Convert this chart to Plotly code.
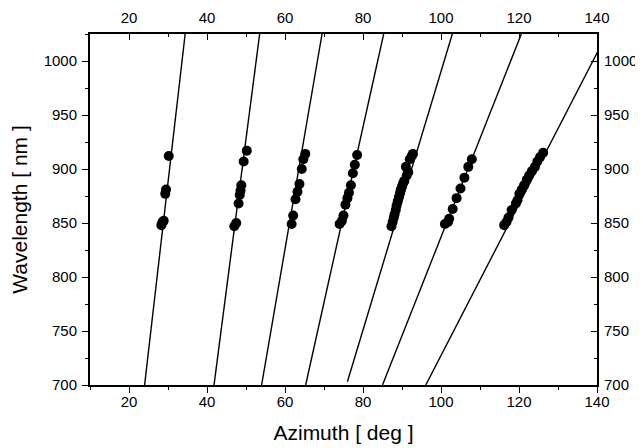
import plotly.graph_objects as go

# ---- data ----
line_wl_start = [700, 700, 700, 700, 703, 700, 700]
line_wl_end = [1025, 1025, 1025, 1025, 1025, 1025, 1025]
line_az_start = [24.0, 41.8, 54.0, 65.3, 76.0, 85.0, 96.1]
line_az_end = [34.4, 53.5, 69.5, 85.3, 102.9, 120.6, 142.5]

g1_az = [28.3, 28.6, 28.9, 29.3, 29.5, 30.2]
g1_wl = [848, 851, 852, 877, 881, 912]
g2_az = [47.0, 47.5, 48.1, 48.4, 48.6, 48.8, 49.4, 50.2]
g2_wl = [847, 850, 868, 876, 880, 885, 907, 917]
g3_az = [61.7, 62.1, 62.7, 63.2, 63.7, 64.3, 64.7, 65.2]
g3_wl = [849, 857, 872, 879, 886, 900, 909, 914]
g4_az = [74.0, 74.6, 75.0, 75.5, 76.0, 76.4, 76.9, 77.4, 77.9, 78.5]
g4_wl = [849, 852, 857, 867, 873, 878, 885, 896, 904, 913]
g5_az = [87.3, 87.6, 87.9, 88.1, 88.4, 88.6, 88.9, 89.2, 89.5, 89.7, 90.0, 90.3,
         90.6, 91.2, 91.6, 91.0, 92.0, 92.5, 92.8]
g5_wl = [847, 851, 855, 858, 862, 866, 870, 874, 878, 881, 884, 887,
         889, 894, 897, 902, 909, 912, 914]
g6_az = [101.0, 101.8, 102.1, 103.0, 104.0, 105.0, 106.0, 107.0, 107.9]
g6_wl = [849, 851, 854, 863, 873, 882, 892, 902, 909]
g7_az = [116.2, 116.8, 117.3, 118.1, 119.2, 119.6, 120.1, 120.7, 121.3, 122.0,
         122.6, 123.3, 124.1, 124.7, 125.4, 126.2]
g7_wl = [848, 851, 855, 862, 868, 871, 877, 881, 885, 890,
         894, 898, 902, 907, 911, 915]

x_ticks = [20, 40, 60, 80, 100, 120, 140]
y_ticks = [700, 750, 800, 850, 900, 950, 1000]

groups = [(g1_az, g1_wl), (g2_az, g2_wl), (g3_az, g3_wl), (g4_az, g4_wl),
          (g5_az, g5_wl), (g6_az, g6_wl), (g7_az, g7_wl)]

FONT = "Liberation Sans, Arial, sans-serif"

fig = go.Figure()
for a0, a1, w0, w1 in zip(line_az_start, line_az_end, line_wl_start, line_wl_end):
    fig.add_trace(go.Scatter(x=[a0, a1], y=[w0, w1], mode="lines",
                             line=dict(color="black", width=1.4),
                             showlegend=False, hoverinfo="skip"))
for az, wl in groups:
    fig.add_trace(go.Scatter(x=az, y=wl, mode="markers",
                             marker=dict(color="black", size=10, line=dict(width=0)),
                             showlegend=False))
# invisible trace to activate top/right axes
fig.add_trace(go.Scatter(x=[None], y=[None], xaxis="x2", yaxis="y2",
                         mode="markers", showlegend=False, hoverinfo="skip"))

common = dict(showline=True, linecolor="black", linewidth=2, showgrid=False,
              zeroline=False, tickcolor="black", ticklen=6, tickwidth=1.3,
              automargin=False,
              tickfont=dict(family=FONT, size=15, color="black"))
minor_x = dict(dtick=10, ticklen=3, tickcolor="black", tickwidth=1, showgrid=False)
minor_y = dict(dtick=25, ticklen=3, tickcolor="black", tickwidth=1, showgrid=False)

# page body has an 8px margin, so the figure is sized/offset to compensate
fig.update_layout(
    width=635, height=440,
    margin=dict(l=82, r=46, t=26, b=63, pad=0),
    paper_bgcolor="white", plot_bgcolor="white",
    font=dict(family=FONT, color="black"),
    xaxis=dict(range=[10, 140], tickvals=x_ticks, ticks="outside",
               minor=dict(ticks="outside", **minor_x), ticklabelstandoff=-4,
               title=dict(text="Azimuth [ deg ]", font=dict(family=FONT, size=21), standoff=16),
               **common),
    yaxis=dict(range=[700, 1025], tickvals=y_ticks, ticks="outside",
               minor=dict(ticks="outside", **minor_y), ticklabelstandoff=2,
               title=dict(text="Wavelength [ nm ]", font=dict(family=FONT, size=21), standoff=27),
               **common),
    xaxis2=dict(range=[10, 140], tickvals=x_ticks, ticks="inside", side="top",
                overlaying="x", anchor="y2", ticklabelstandoff=3,
                minor=dict(ticks="inside", **minor_x), **common),
    yaxis2=dict(range=[700, 1025], tickvals=y_ticks, ticks="inside", side="right",
                overlaying="y", anchor="x2", ticklabelstandoff=2,
                minor=dict(ticks="inside", **minor_y), **common),
)

fig.write_html("out.html")
